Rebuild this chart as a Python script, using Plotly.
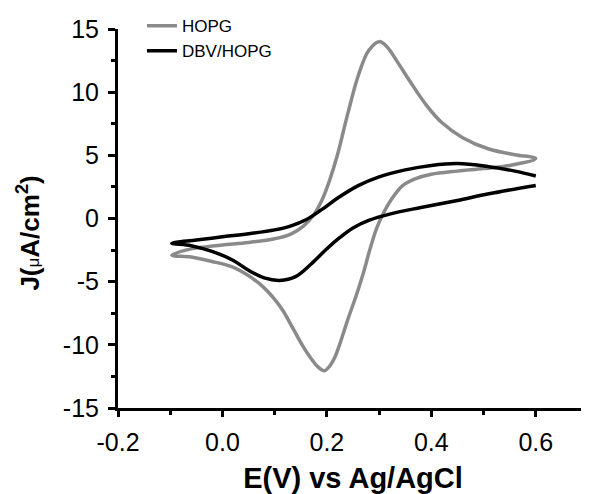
import plotly.graph_objects as go

# HOPG (gray) cyclic voltammogram: E (V) and J (uA/cm2)
hopg_E = [-0.097, -0.07, -0.043, 0.0, 0.05, 0.10, 0.13, 0.155, 0.175, 0.19, 0.205, 0.22, 0.24, 0.26, 0.28,
          0.30, 0.315, 0.335, 0.36, 0.39, 0.42, 0.46, 0.51, 0.56, 0.60,
          0.55, 0.50, 0.45, 0.40, 0.37, 0.345, 0.325, 0.308, 0.295, 0.282, 0.27, 0.257, 0.24, 0.225, 0.215, 0.205,
          0.195, 0.183, 0.17, 0.154, 0.135, 0.116, 0.10, 0.072, 0.045, 0.02, -0.02, -0.06, -0.097]
hopg_J = [-2.9, -2.5, -2.3, -2.1, -1.9, -1.6, -1.25, -0.6, 0.3, 1.4, 3.0, 5.0, 8.3, 11.3, 13.3,
          14.0, 13.6, 12.4, 10.8, 9.0, 7.6, 6.4, 5.5, 5.05, 4.75,
          4.2, 3.95, 3.75, 3.5, 3.15, 2.6, 1.6, 0.4, -0.8, -2.5, -4.3, -6.0, -8.0, -9.9, -11.0, -11.7,
          -12.05, -11.75, -11.1, -10.1, -8.7, -7.3, -6.4, -5.2, -4.4, -3.85, -3.4, -3.05, -2.9]

# DBV/HOPG (black)
dbv_E = [0.60, 0.56, 0.51, 0.45, 0.40, 0.35, 0.30, 0.26, 0.22, 0.19, 0.16, 0.13, 0.10, 0.05, 0.0, -0.05, -0.097,
         -0.06, -0.02, 0.02, 0.05, 0.08, 0.11, 0.14, 0.17, 0.20, 0.225, 0.25, 0.28, 0.32, 0.38, 0.45, 0.51, 0.60]
dbv_J = [3.36, 3.75, 4.1, 4.35, 4.2, 3.85, 3.3, 2.6, 1.6, 0.7, -0.1, -0.6, -0.9, -1.2, -1.45, -1.7, -1.96,
         -2.15, -2.6, -3.3, -4.1, -4.7, -4.9, -4.6, -3.6, -2.4, -1.5, -0.75, -0.15, 0.35, 0.87, 1.43, 1.96, 2.62]

x_ticks = [-0.2, 0.0, 0.2, 0.4, 0.6]
x_ticklabels = ["-0.2", "0.0", "0.2", "0.4", "0.6"]
y_ticks = [-15, -10, -5, 0, 5, 10, 15]
y_ticklabels = ["-15", "-10", "-5", "0", "5", "10", "15"]

FONT = "Arial, 'Liberation Sans', sans-serif"

fig = go.Figure()
fig.add_trace(go.Scatter(x=hopg_E, y=hopg_J, mode="lines", name="HOPG",
                         line=dict(color="#8a8a8a", width=3.5, shape="spline", smoothing=1.0)))
fig.add_trace(go.Scatter(x=dbv_E, y=dbv_J, mode="lines", name="DBV/HOPG",
                         line=dict(color="#000000", width=3.5, shape="spline", smoothing=1.0)))

# the page adds an 8px body margin, so the figure is sized/margined to land on the reference pixels
fig.update_layout(
    width=581, height=486,
    margin=dict(l=110, r=1, t=21, b=86, autoexpand=False),
    paper_bgcolor="white", plot_bgcolor="white",
    font=dict(family=FONT, color="black"),
    showlegend=True,
    legend=dict(x=0.051, y=1.055, xanchor="left", yanchor="top",
                font=dict(size=17, family=FONT), bgcolor="rgba(0,0,0,0)",
                tracegroupgap=0, itemwidth=30),
    xaxis=dict(range=[-0.2, 0.7], tickvals=x_ticks, ticktext=x_ticklabels, automargin=False,
               showgrid=False, zeroline=False, showline=True, linecolor="black", linewidth=3,
               ticks="outside", ticklen=6, tickwidth=3, tickcolor="black", ticklabelstandoff=4,
               tickfont=dict(size=25, family=FONT),
               minor=dict(tickvals=[-0.1, 0.1, 0.3, 0.5, 0.7], ticks="outside", ticklen=4, tickwidth=3, tickcolor="black"),
               title=dict(text="<b>E(V) vs Ag/AgCl</b>", font=dict(size=29, family=FONT), standoff=13)),
    yaxis=dict(range=[-15, 15], tickvals=y_ticks, ticktext=y_ticklabels, automargin=False,
               showgrid=False, zeroline=False, showline=True, linecolor="black", linewidth=3,
               ticks="outside", ticklen=7, tickwidth=3, tickcolor="black", ticklabelstandoff=4,
               tickfont=dict(size=25, family=FONT),
               minor=dict(tickvals=[-12.5, -7.5, -2.5, 2.5, 7.5, 12.5], ticks="outside", ticklen=4, tickwidth=3, tickcolor="black"),
               title=dict(text="<b>J(</b><span style=\"font-size:17px\">μ</span><b>A/cm<sup>2</sup>)\u00a0\u00a0\u00a0\u00a0</b>",
                          font=dict(size=26, family=FONT), standoff=16)),
)

fig.write_html("out.html")
